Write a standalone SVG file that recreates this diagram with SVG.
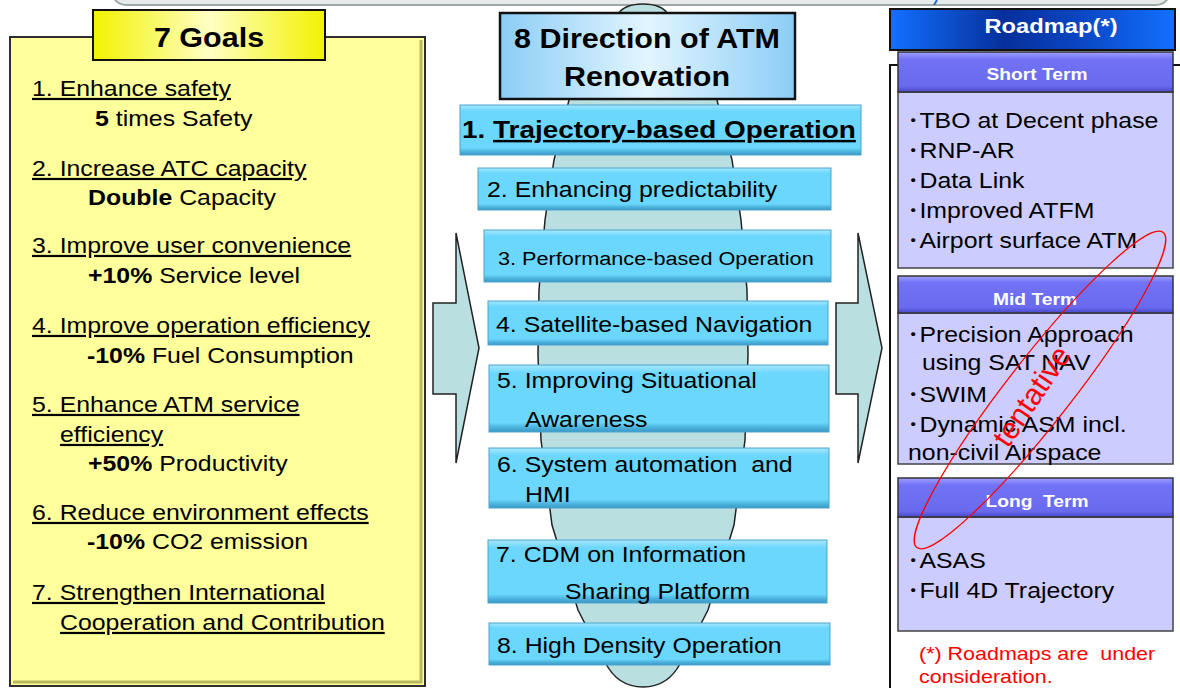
<svg xmlns="http://www.w3.org/2000/svg" width="1180" height="688" viewBox="0 0 1180 688">
<defs>
<style>
.t{font-family:"Liberation Sans",Arial,"Noto Sans CJK JP",sans-serif;font-size:22px;fill:#000}
.b{font-weight:bold}
.u{text-decoration:underline}
.hd{font-family:"Liberation Sans",Arial,sans-serif;font-weight:bold;font-size:17px;fill:#fff}
.item{fill:url(#gItem);stroke:#4aa3cf;stroke-width:1}
.termH{fill:url(#gTerm);stroke:#333;stroke-width:1.5}
.termB{fill:#ccccff;stroke:#444;stroke-width:1.5}
.arrow{fill:#badfe0;stroke:#222;stroke-width:1.5}
.red{font-family:"Liberation Sans",Arial,sans-serif;font-size:19px;fill:#ff0000}
</style>
<linearGradient id="gItem" x1="0" y1="0" x2="0" y2="1">
<stop offset="0" stop-color="#a8e8ff"/>
<stop offset="0.12" stop-color="#6cd7fc"/>
<stop offset="0.86" stop-color="#6cd7fc"/>
<stop offset="0.92" stop-color="#4fb8e2"/>
<stop offset="1" stop-color="#3b98c4"/>
</linearGradient>
<linearGradient id="gTerm" x1="0" y1="0" x2="0" y2="1">
<stop offset="0" stop-color="#a0a0ff"/>
<stop offset="0.18" stop-color="#7272f6"/>
<stop offset="0.85" stop-color="#6a6af0"/>
<stop offset="1" stop-color="#4848c8"/>
</linearGradient>
<linearGradient id="gGoalT" x1="0" y1="0" x2="1" y2="0">
<stop offset="0" stop-color="#f2f200"/>
<stop offset="0.5" stop-color="#ffffc4"/>
<stop offset="1" stop-color="#f2f200"/>
</linearGradient>
<linearGradient id="gDir" x1="0" y1="0" x2="1" y2="0">
<stop offset="0" stop-color="#8ccdf6"/>
<stop offset="0.5" stop-color="#e2f5ff"/>
<stop offset="1" stop-color="#8ccdf6"/>
</linearGradient>
<linearGradient id="gRoad" x1="0" y1="0" x2="1" y2="0">
<stop offset="0" stop-color="#1270ff"/>
<stop offset="0.4" stop-color="#06309c"/>
<stop offset="0.65" stop-color="#0a44c0"/>
<stop offset="1" stop-color="#1270ff"/>
</linearGradient>
</defs>

<rect x="0" y="0" width="1180" height="688" fill="#ffffff"/>

<!-- top strip -->
<g id="top-bar">
<rect x="112" y="-40" width="1058" height="45" rx="14" fill="#e6eaea" stroke="#9ea6a6" stroke-width="2"/>
<path d="M937 0 L934 5" stroke="#1f6fd0" stroke-width="2" fill="none"/>
</g>

<!-- Goals panel -->
<g id="goals">
<rect x="10" y="37" width="415" height="649" fill="#ffff9c" stroke="#2e2e2e" stroke-width="2"/>
<path d="M421 40 L421 682 L13 682" fill="none" stroke="#b8b860" stroke-width="3"/>
<g class="t">
<text class="u" transform="translate(32,96) scale(1.13,1)">1. Enhance safety</text>
<text transform="translate(95,126) scale(1.13,1)"><tspan class="b">5</tspan> times Safety</text>
<text class="u" transform="translate(32,176) scale(1.13,1)">2. Increase ATC capacity</text>
<text transform="translate(88,205) scale(1.13,1)"><tspan class="b">Double</tspan> Capacity</text>
<text class="u" transform="translate(32,253) scale(1.13,1)">3. Improve user convenience</text>
<text transform="translate(88,283) scale(1.13,1)"><tspan class="b">+10%</tspan> Service level</text>
<text class="u" transform="translate(32,333) scale(1.13,1)">4. Improve operation efficiency</text>
<text transform="translate(87,363) scale(1.13,1)"><tspan class="b">-10%</tspan> Fuel Consumption</text>
<text class="u" transform="translate(32,412) scale(1.13,1)">5. Enhance ATM service</text>
<text class="u" transform="translate(60,442) scale(1.13,1)">efficiency</text>
<text transform="translate(88,471) scale(1.13,1)"><tspan class="b">+50%</tspan> Productivity</text>
<text class="u" transform="translate(32,520) scale(1.13,1)">6. Reduce environment effects</text>
<text transform="translate(87,549) scale(1.13,1)"><tspan class="b">-10%</tspan> CO2 emission</text>
<text class="u" transform="translate(32,600) scale(1.13,1)">7. Strengthen International</text>
<text class="u" transform="translate(60,630) scale(1.13,1)">Cooperation and Contribution</text>
</g>
</g>

<g id="goals-title">
<rect x="93" y="10" width="232" height="50" fill="url(#gGoalT)" stroke="#111" stroke-width="2"/>
<text class="t b" style="font-size:27px" text-anchor="middle" transform="translate(209,47) scale(1.13,1)">7 Goals</text>
</g>

<!-- central teardrop -->
<g id="direction-body">
<path class="arrow" d="M643 4 C656 4 664 8 668 14 L717 100 L732 160 L741 220 L747 290 L748 355 L745 440 L734 525 L708 610 L690 645 L681 662 C672 680 658 687 643 687 C628 687 614 680 605 662 L596 645 L578 610 L552 525 L541 440 L538 355 L539 290 L545 220 L554 160 L569 100 L618 14 C622 8 630 4 643 4 Z"/>
</g>

<!-- connectors (block arrows) -->
<g id="connectors">
<polygon class="arrow" points="433,303 456,303 456,233 479,348 456,463 456,394 433,394"/>
<polygon class="arrow" points="836,303 858,303 858,233 882,348 858,463 858,394 836,394"/>
</g>

<g id="direction-title">
<rect x="500" y="13" width="295" height="86" fill="url(#gDir)" stroke="#111" stroke-width="2.5"/>
<text class="t b" style="font-size:27px" text-anchor="middle" transform="translate(647,48) scale(1.13,1)">8 Direction of ATM</text>
<text class="t b" style="font-size:27px" text-anchor="middle" transform="translate(647,86) scale(1.13,1)">Renovation</text>
</g>

<g id="item1">
<rect class="item" x="460" y="105" width="401" height="50"/>
<text class="t b" style="font-size:24.7px" transform="translate(462,138) scale(1.13,1)">1. <tspan class="u">Trajectory-based Operation</tspan></text>
</g>
<g id="item2">
<rect class="item" x="478" y="168" width="353" height="42"/>
<text class="t" transform="translate(487,197) scale(1.13,1)">2. Enhancing predictability</text>
</g>
<g id="item3">
<rect class="item" x="484" y="230" width="347" height="52"/>
<text class="t" style="font-size:19.2px" transform="translate(498,265) scale(1.13,1)">3. Performance-based Operation</text>
</g>
<g id="item4">
<rect class="item" x="488" y="301" width="340" height="44"/>
<text class="t" transform="translate(496,332) scale(1.13,1)">4. Satellite-based Navigation</text>
</g>
<g id="item5">
<rect class="item" x="489" y="365" width="340" height="67"/>
<text class="t" transform="translate(497,388) scale(1.13,1)">5. Improving Situational</text>
<text class="t" transform="translate(525,427) scale(1.13,1)">Awareness</text>
</g>
<g id="item6">
<rect class="item" x="489" y="448" width="340" height="60"/>
<text class="t" transform="translate(497,472) scale(1.13,1)" xml:space="preserve">6. System automation  and</text>
<text class="t" transform="translate(525,502) scale(1.13,1)">HMI</text>
</g>
<g id="item7">
<rect class="item" x="488" y="540" width="339" height="63"/>
<text class="t" transform="translate(496,562) scale(1.13,1)">7. CDM on Information</text>
<text class="t" transform="translate(565,599) scale(1.13,1)">Sharing Platform</text>
</g>
<g id="item8">
<rect class="item" x="489" y="623" width="341" height="42"/>
<text class="t" transform="translate(497,653) scale(1.13,1)">8. High Density Operation</text>
</g>

<!-- Roadmap -->
<g id="roadmap-frame">
<rect x="890" y="65" width="310" height="640" fill="none" stroke="#111" stroke-width="2"/>
</g>
<g id="roadmap-title">
<rect x="890" y="9" width="285" height="41" fill="url(#gRoad)" stroke="#111" stroke-width="2"/>
<text class="t b" style="font-size:21px;fill:#fff" text-anchor="middle" transform="translate(1051,33) scale(1.13,1)">Roadmap(*)</text>
</g>

<g id="short-term">
<rect class="termB" x="898" y="92" width="275" height="176"/>
<rect class="termH" x="898" y="52" width="275" height="40"/>
<text class="hd" text-anchor="middle" transform="translate(1037,80) scale(1.13,1)">Short Term</text>
<g class="t">
<text transform="translate(907,128) scale(1.13,1)">･TBO at Decent phase</text>
<text transform="translate(907,158) scale(1.13,1)">･RNP-AR</text>
<text transform="translate(907,188) scale(1.13,1)">･Data Link</text>
<text transform="translate(907,218) scale(1.13,1)">･Improved ATFM</text>
<text transform="translate(907,248) scale(1.13,1)">･Airport surface ATM</text>
</g>
</g>

<g id="mid-term">
<rect class="termB" x="898" y="313" width="275" height="151"/>
<rect class="termH" x="898" y="276" width="275" height="37"/>
<text class="hd" text-anchor="middle" transform="translate(1035,305) scale(1.13,1)">Mid Term</text>
<g class="t">
<text transform="translate(907,342) scale(1.13,1)">･Precision Approach</text>
<text transform="translate(922,370) scale(1.13,1)">using SAT NAV</text>
<text transform="translate(907,402) scale(1.13,1)">･SWIM</text>
<text transform="translate(907,432) scale(1.13,1)">･Dynamic ASM incl.</text>
<text transform="translate(908,460) scale(1.13,1)">non-civil Airspace</text>
</g>
</g>

<g id="long-term">
<rect class="termB" x="898" y="517" width="275" height="114"/>
<rect class="termH" x="898" y="478" width="275" height="39"/>
<text class="hd" text-anchor="middle" transform="translate(1037,507) scale(1.13,1)" xml:space="preserve">Long  Term</text>
<g class="t">
<text transform="translate(907,568) scale(1.13,1)">･ASAS</text>
<text transform="translate(907,598) scale(1.13,1)">･Full 4D Trajectory</text>
</g>
</g>

<g id="note">
<text class="red" transform="translate(919,660) scale(1.13,1)" xml:space="preserve">(*) Roadmaps are  under</text>
<text class="red" transform="translate(919,683) scale(1.13,1)">consideration.</text>
</g>

<g id="tentative">
<ellipse cx="1040" cy="390" rx="200" ry="32" transform="rotate(-52 1040 390)" fill="none" stroke="#ff0000" stroke-width="1.3"/>
<text transform="translate(1040,402) rotate(-56)" text-anchor="middle" style="font-family:'Liberation Sans',Arial,sans-serif;font-size:30px;fill:#ff0000">tentative</text>
</g>
</svg>
